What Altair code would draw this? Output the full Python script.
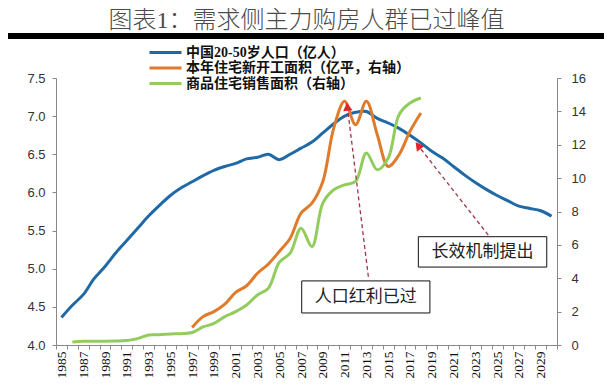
import altair as alt
import pandas as pd

# ---------------- data ----------------
years = list(range(1985, 2031))
pop = [4.36, 4.52, 4.66, 4.87, 5.03, 5.21, 5.37, 5.53, 5.69, 5.83,
       5.96, 6.06, 6.14, 6.22, 6.29, 6.34, 6.38, 6.44, 6.46, 6.50,
       6.43, 6.50, 6.58, 6.66, 6.78, 6.90, 7.00, 7.05, 7.06, 6.97,
       6.91, 6.84, 6.75, 6.65, 6.54, 6.45, 6.34, 6.23, 6.13, 6.04,
       5.96, 5.89, 5.82, 5.79, 5.76, 5.69]

start_years = list(range(1997, 2019))
starts = [1.05, 1.7, 2.0, 2.45, 3.15, 3.55, 4.3, 4.85, 5.6, 6.4,
          7.9, 8.5, 9.8, 13.0, 14.6, 13.2, 14.6, 12.6, 10.7, 11.4,
          12.8, 13.9]

sales_years = list(range(1986, 2019))
sales = [0.18, 0.22, 0.23, 0.23, 0.24, 0.27, 0.38, 0.60, 0.62, 0.66,
         0.68, 0.75, 1.08, 1.3, 1.7, 2.0, 2.4, 3.0, 3.4, 4.95,
         5.5, 7.0, 5.9, 8.5, 9.3, 9.6, 9.8, 11.5, 10.5, 11.2,
         13.8, 14.5, 14.8]

series_names = ["中国20-50岁人口（亿人）",
                "本年住宅新开工面积（亿平，右轴）",
                "商品住宅销售面积（右轴）"]
series_colors = ["#1f6aa6", "#e07b2c", "#92cc5c"]

title_text = "图表1：需求侧主力购房人群已过峰值"

# annotations (in data units: year, right-axis value)
note_labels = ["人口红利已过", "长效机制提出"]
note_box_x = [2007.06, 2017.77]
note_box_x2 = [2018.83, 2029.56]
note_box_y = [3.84, 6.49]
note_box_y2 = [1.92, 4.67]
note_text_x = [2012.95, 2023.65]
note_text_y = [2.88, 5.58]
arrow_from_x = [2013.18, 2024.19]
arrow_from_y = [4.09, 6.59]
arrow_to_x = [2011.25, 2017.75]
arrow_to_y = [14.28, 11.95]

# ---------------- tables ----------------
df_pop = pd.DataFrame({"year": years, "value": pop, "series": series_names[0]})
df_right = pd.concat([
    pd.DataFrame({"year": start_years, "value": starts, "series": series_names[1]}),
    pd.DataFrame({"year": sales_years, "value": sales, "series": series_names[2]}),
])
df_notes = pd.DataFrame({
    "label": note_labels,
    "bx": note_box_x, "bx2": note_box_x2, "by": note_box_y, "by2": note_box_y2,
    "tx": note_text_x, "ty": note_text_y,
    "ax": arrow_from_x, "ay": arrow_from_y, "ax2": arrow_to_x, "ay2": arrow_to_y,
})

SERIF_CJK = "Liberation Serif, Noto Sans CJK SC"

# ---------------- scales / axes ----------------
xscale = alt.Scale(domain=[1984.5, 2030.5], nice=False, zero=False)
xaxis = alt.Axis(
    values=[y - 0.5 for y in years] + [2030.5],
    labelExpr="((datum.value + 0.5) % 2 == 1 && datum.value < 2030) ? format(datum.value + 0.5, 'd') : ''",
    labelOffset=5.45, labelAngle=270, labelOverlap=False, labelFlush=False,
    labelFont="Liberation Serif", labelFontSize=13.5, labelColor="#111",
    labelPadding=2, tickSize=4, tickColor="#888", domainColor="#888",
    grid=False, title=None,
)
yl_scale = alt.Scale(domain=[4, 7.5], nice=False, zero=False)
yl_axis = alt.Axis(
    orient="left", values=[4.0, 4.5, 5.0, 5.5, 6.0, 6.5, 7.0, 7.5], format=".1f",
    labelFont="Liberation Sans", labelFontSize=13, labelColor="#333",
    labelPadding=7, tickSize=4, tickColor="#888", domainColor="#888",
    grid=False, title=None,
)
yr_scale = alt.Scale(domain=[0, 16], nice=False, zero=False)
yr_axis = alt.Axis(
    orient="right", values=list(range(0, 17, 2)),
    labelFont="Liberation Sans", labelFontSize=13, labelColor="#333",
    labelPadding=10, tickSize=4, tickColor="#888", domainColor="#888",
    grid=False, title=None,
)
color_scale = alt.Scale(domain=series_names, range=series_colors)
legend = alt.Legend(
    orient="none", legendX=102, legendY=-33, title=None,
    symbolType="M-2.67,0L2.67,0", symbolSize=144, symbolStrokeWidth=3,
    labelFont=SERIF_CJK, labelFontWeight="bold", labelFontSize=14,
    labelColor="#111", labelOffset=13, labelLimit=500, rowPadding=0.5, padding=0,
)

def X(field):
    return alt.X(f"{field}:Q", scale=xscale, axis=xaxis)

def YR(field):
    return alt.Y(f"{field}:Q", scale=yr_scale, axis=yr_axis)

# ---------------- layers ----------------
blue = alt.Chart(df_pop).mark_line(strokeWidth=3, interpolate="catmull-rom").encode(
    x=X("year"),
    y=alt.Y("value:Q", scale=yl_scale, axis=yl_axis),
    color=alt.Color("series:N", scale=color_scale, legend=legend),
)

right_lines = alt.Chart(df_right).mark_line(strokeWidth=3, interpolate="catmull-rom").encode(
    x=X("year"),
    y=YR("value"),
    color=alt.Color("series:N", scale=color_scale, legend=legend),
    detail="series:N",
)

notes = alt.Chart(df_notes)
arrows = notes.mark_rule(strokeDash=[4, 3], strokeWidth=1.3, color="#a33448").encode(
    x=X("ax"), x2="ax2", y=YR("ay"), y2="ay2",
)
head1 = alt.Chart(df_notes.iloc[[0]]).mark_point(
    shape="triangle-up", filled=True, size=90, color="#e3232c", opacity=1
).encode(x=X("ax2"), y=YR("ay2"), angle=alt.value(353))
head2 = alt.Chart(df_notes.iloc[[1]]).mark_point(
    shape="triangle-up", filled=True, size=90, color="#e3232c", opacity=1
).encode(x=X("ax2"), y=YR("ay2"), angle=alt.value(322))
boxes = notes.mark_rect(fill="white", stroke="#111", strokeWidth=1).encode(
    x=X("bx"), x2="bx2", y=YR("by"), y2="by2",
)
texts = notes.mark_text(font="Noto Sans CJK SC", fontSize=17, color="#222").encode(
    x=X("tx"), y=YR("ty"), text="label:N",
)

inner = alt.layer(right_lines, arrows, head1, head2, boxes, texts)

separator = alt.Chart(df_pop).mark_rule(color="#000", strokeWidth=5).encode(
    x=alt.value(-50), x2=alt.value(560), y=alt.value(-42),
)
title_mark = alt.Chart(pd.DataFrame({"t": [title_text]})).mark_text(
    font=SERIF_CJK, fontSize=24, fontWeight=300, color="#4a4a4a",
    align="center", baseline="middle"
).encode(x=alt.value(250.5), y=alt.value(-57), text="t:N")

chart = alt.layer(blue, inner, separator, title_mark).resolve_scale(
    y="independent"
).properties(
    width=501, height=267,
    padding={"left": 48, "top": 70, "right": 47, "bottom": 33},
    autosize=alt.AutoSizeParams(type="none"),
    background="white",
).configure_view(stroke=None)

chart.save("out.html", embed_options={"renderer": "svg", "actions": False})
